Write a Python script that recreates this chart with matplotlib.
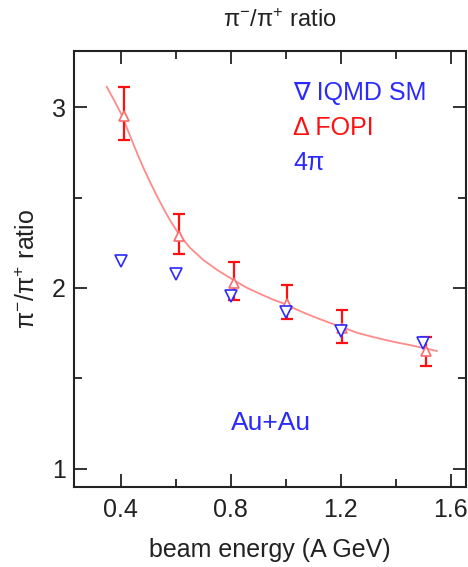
import matplotlib
matplotlib.use("Agg")
import matplotlib.pyplot as plt
from matplotlib.ticker import MultipleLocator

plt.rcParams["font.family"] = ["Liberation Sans", "DejaVu Sans"]
plt.rcParams["mathtext.fontset"] = "custom"
plt.rcParams["mathtext.rm"] = "Liberation Sans"
plt.rcParams["mathtext.it"] = "Liberation Sans:italic"

# FOPI data (red, with error bars)
fopi_e = [0.41, 0.61, 0.81, 1.005, 1.204, 1.509]
fopi_r = [2.95, 2.29, 2.03, 1.91, 1.78, 1.65]
fopi_hi = [3.11, 2.41, 2.145, 2.017, 1.878, 1.731]
fopi_lo = [2.82, 2.186, 1.934, 1.827, 1.694, 1.569]

# IQMD SM (blue, open down triangles)
iqmd_e = [0.4, 0.6, 0.8, 1.0, 1.2, 1.5]
iqmd_r = [2.15, 2.077, 1.956, 1.867, 1.762, 1.696]

# fit curve
fit_e = [0.349, 0.375, 0.404, 0.425, 0.446, 0.465, 0.482, 0.505, 0.531,
         0.555, 0.579, 0.61, 0.65, 0.70, 0.75, 0.81, 0.86, 0.91, 0.955,
         1.00, 1.055, 1.11, 1.155, 1.20, 1.26, 1.32, 1.36, 1.40, 1.45,
         1.50, 1.549]
fit_r = [3.112, 3.04, 2.955, 2.875, 2.795, 2.725, 2.665, 2.59, 2.51,
         2.44, 2.375, 2.30, 2.225, 2.155, 2.10, 2.044, 2.00, 1.965, 1.935,
         1.91, 1.87, 1.836, 1.81, 1.786, 1.752, 1.728, 1.714, 1.70, 1.685,
         1.668, 1.652]

RED = "#ff1010"
BLUE = "#2a2aff"

fig = plt.figure(figsize=(4.68, 5.67), dpi=100)
ax = fig.add_axes([74 / 468, 1 - 487 / 567, 392 / 468, 436 / 567])

ax.plot(fit_e, fit_r, color="#ff8a8a", lw=1.3, zorder=1)

yerr = [[r - lo for r, lo in zip(fopi_r, fopi_lo)],
        [hi - r for r, hi in zip(fopi_r, fopi_hi)]]
ax.errorbar(fopi_e, fopi_r, yerr=yerr, fmt="none", ecolor=RED,
            elinewidth=1.6, capsize=4.5, capthick=1.6, zorder=2)
ax.plot(fopi_e, fopi_r, "^", ms=7, mfc="white", mec="#ff6a6a", mew=1.2, zorder=3)

ax.plot(iqmd_e, iqmd_r, "v", ms=8, mfc="white", mec=BLUE, mew=1.2, zorder=4)

ax.set_xlim(0.23, 1.655)
ax.set_ylim(0.9, 3.31)
ax.xaxis.set_minor_locator(MultipleLocator(0.2))
ax.yaxis.set_minor_locator(MultipleLocator(0.5))
ax.set_xticks([0.4, 0.8, 1.2, 1.6])
ax.set_xticklabels(["0.4", "0.8", "1.2", "1.6"])
ax.set_yticks([1, 2, 3])
ax.set_yticklabels(["1", "2", "3"])

ax.tick_params(which="both", direction="in", top=True, right=True,
               width=1.3, colors="#222222", labelsize=18)
ax.tick_params(which="major", length=9.5)
ax.tick_params(which="minor", length=5.5)
ax.tick_params(axis="x", which="major", pad=8)
ax.tick_params(axis="y", which="major", pad=6)
for s in ax.spines.values():
    s.set_linewidth(1.5)
    s.set_color("#222222")

ax.set_xlabel("beam energy (A GeV)", fontsize=18, color="#222222")
ax.xaxis.set_label_coords(0.50, -0.117)
ax.set_ylabel(r"$\mathrm{\pi^{-}/\pi^{+}}$ ratio", fontsize=18, color="#222222")
ax.yaxis.set_label_coords(-0.087, 0.5)

fig.text(280 / 468, 1 - 21 / 567, r"$\mathrm{\pi^{-}/\pi^{+}}$ ratio",
         ha="center", va="center", fontsize=17, color="#222222")

ax.text(0.559, 0.904, "∇ IQMD SM", transform=ax.transAxes, color=BLUE,
        fontsize=18, va="center", ha="left")
ax.text(0.559, 0.823, "Δ FOPI", transform=ax.transAxes, color=RED,
        fontsize=18, va="center", ha="left")
ax.text(0.559, 0.743, "4π", transform=ax.transAxes, color=BLUE,
        fontsize=18, va="center", ha="left")
ax.text(0.502, 0.147, "Au+Au", transform=ax.transAxes, color=BLUE,
        fontsize=19, va="center", ha="center")

fig.savefig("out.png", dpi=100)
